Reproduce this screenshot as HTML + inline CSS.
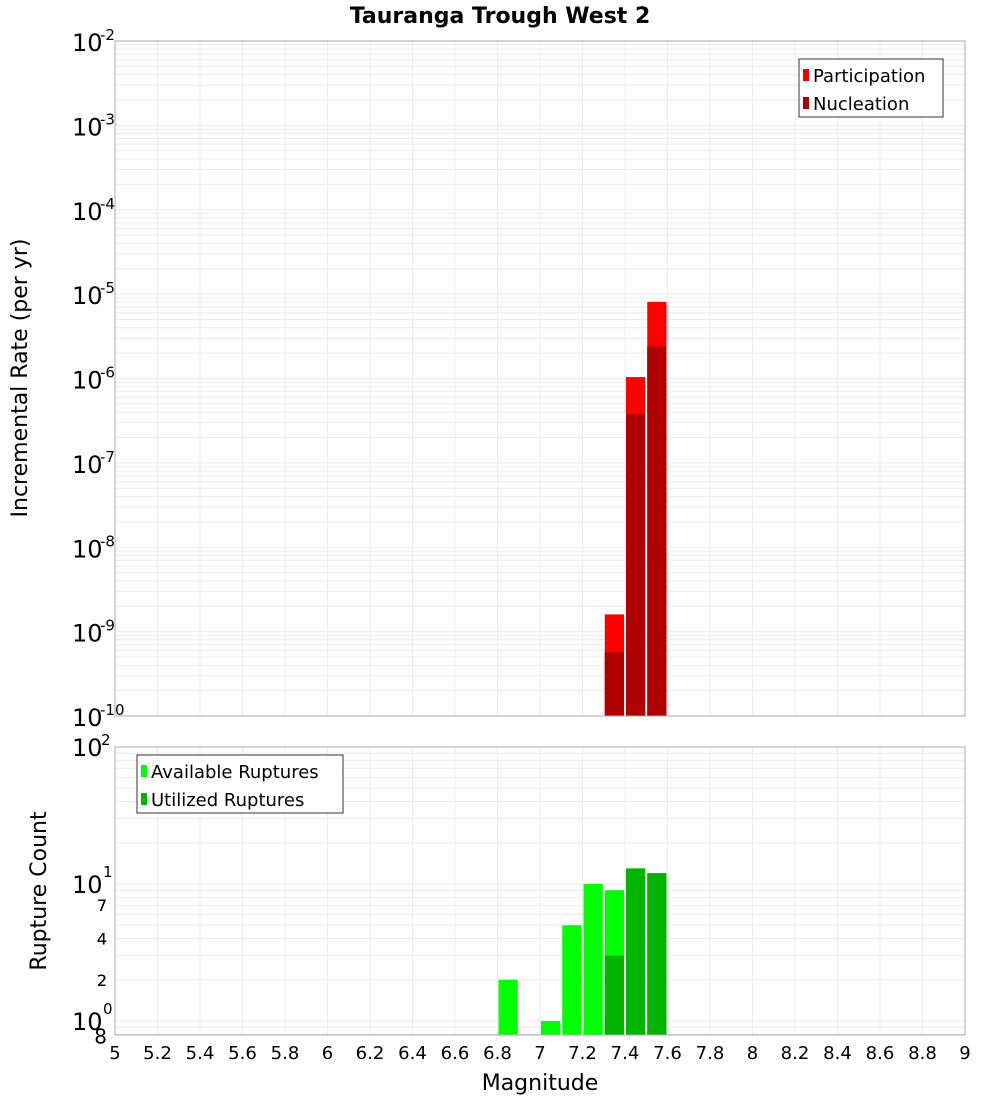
<!DOCTYPE html>
<html><head><meta charset="utf-8"><style>
body{margin:0;background:#fff;}
svg{display:block;font-family:"DejaVu Sans","Liberation Sans",sans-serif;}
</style></head><body>
<svg id="c" width="1000" height="1100" xmlns="http://www.w3.org/2000/svg">
<text x="500" y="23" text-anchor="middle" font-size="22" font-weight="bold">Tauranga Trough West 2</text>
<text transform="translate(27,378) rotate(-90)" text-anchor="middle" font-size="22">Incremental Rate (per yr)</text>
<text transform="translate(46,891) rotate(-90)" text-anchor="middle" font-size="22">Rupture Count</text>
<text x="540" y="1090" text-anchor="middle" font-size="22">Magnitude</text>
</svg>
<script>
const xTicks=[5,5.2,5.4,5.6,5.8,6,6.2,6.4,6.6,6.8,7,7.2,7.4,7.6,7.8,8,8.2,8.4,8.6,8.8,9];
const rateMags=[7.35,7.45,7.55];
const participation=[1.6e-9,1.04e-6,8.1e-6];
const nucleation=[5.7e-10,3.8e-7,2.4e-6];
const countMags=[6.85,7.05,7.15,7.25,7.35,7.45,7.55];
const available=[2,1,5,10,9,13,12];
const utilized=[0,0,0,0,3,13,12];
const topExps=[-2,-3,-4,-5,-6,-7,-8,-9,-10];
const botLabels=[7,4,2,10,7,4,2,1,0.8];

const NS="http://www.w3.org/2000/svg";
const svg=document.getElementById('c');
function el(t,a,p){const e=document.createElementNS(NS,t);for(const k in a)e.setAttribute(k,a[k]);(p||svg).appendChild(e);return e;}
const X0=115,X1=965;
const x=m=>X0+(m-5)/4*(X1-X0);
const T0=41,T1=716;
const yTop=v=>T0+(-2-Math.log10(v))/8*(T1-T0);
const B0=747,B1=1035,DEC=137;
const yBot=v=>B0+(2-Math.log10(v))*DEC;

// grids
const g=el('g',{});


for(let m=5;m<=9.001;m+=0.2){
  el('line',{x1:x(m),x2:x(m),y1:T0,y2:T1,stroke:'#ebebeb'},g);
  el('line',{x1:x(m),x2:x(m),y1:B0,y2:B1,stroke:'#ebebeb'},g);
}
for(let e=-10;e<-2;e++)for(let k=1;k<10;k++){const y=yTop(k*Math.pow(10,e));el('line',{x1:X0,x2:X1,y1:y,y2:y,stroke:'#ebebeb'},g);}
for(let e=-1;e<2;e++)for(let k=1;k<10;k++){const y=yBot(k*Math.pow(10,e));if(y>B0&&y<B1)el('line',{x1:X0,x2:X1,y1:y,y2:y,stroke:'#ebebeb'},g);}

function bar(m,v,y0fn,base,col,name){
  const r=el('rect',{x:x(m-0.05)+1,y:y0fn(v),width:x(m+0.05)-x(m-0.05)-2,height:base-y0fn(v),fill:col});
  
  
}
rateMags.forEach((m,i)=>{bar(m,participation[i],yTop,T1,'#ff0000','participation-bar');bar(m,nucleation[i],yTop,T1,'#b00000','nucleation-bar');});
countMags.forEach((m,i)=>{if(available[i]>0)bar(m,available[i],yBot,B1,'#00ff00','available-bar');if(utilized[i]>0)bar(m,utilized[i],yBot,B1,'#00b400','utilized-bar');});

const f1=el('rect',{x:X0,y:T0,width:X1-X0,height:T1-T0,fill:'none',stroke:'#aaa'});


const f2=el('rect',{x:X0,y:B0,width:X1-X0,height:B1-B0,fill:'none',stroke:'#aaa'});



// x tick labels
xTicks.forEach(m=>{const t=el('text',{x:x(m),y:1059,'text-anchor':'middle','font-size':18});t.textContent=String(m);

});

// top y labels
topExps.forEach(e=>{const y=yTop(Math.pow(10,e));
const t=el('text',{x:72,y:y+10,'font-size':24});t.textContent='10';


const s=el('text',{x:100,y:y-1,'font-size':15});s.textContent=String(e);

});

// bottom y labels
botLabels.forEach(v=>{const y=yBot(v);
if(v===10||v===1){const t=el('text',{x:72,y:y+9,'font-size':24});t.textContent='10';


const s=el('text',{x:103,y:y-7,'font-size':15});s.textContent=v===10?'1':'0';

}
else{const t=el('text',{x:107,y:y+(v===0.8?9:6),'text-anchor':'end','font-size':v===0.8?20:16});t.textContent=v===0.8?'8':String(v);

}});
{const t=el('text',{x:72,y:756,'font-size':24});t.textContent='10';


const s=el('text',{x:101,y:745,'font-size':15});s.textContent='2';

}

// legends
function legend(x0,y0,w,items,name){
  const lg=el('g',{});
  
  
  el('rect',{x:x0,y:y0,width:w,height:58,fill:'#fff',stroke:'#333'},lg);
  items.forEach((it,i)=>{el('rect',{x:x0+4,y:y0+10+i*28,width:6,height:12,fill:it[1]},lg);
    const t=el('text',{x:x0+14,y:y0+23+i*28,'font-size':18},lg);t.textContent=it[0];});
}
legend(799,59,144,[['Participation','#ff0000'],['Nucleation','#b00000']],'top-legend');
legend(137,755,206,[['Available Ruptures','#00ff00'],['Utilized Ruptures','#00b400']],'bottom-legend');
</script>
</body></html>
